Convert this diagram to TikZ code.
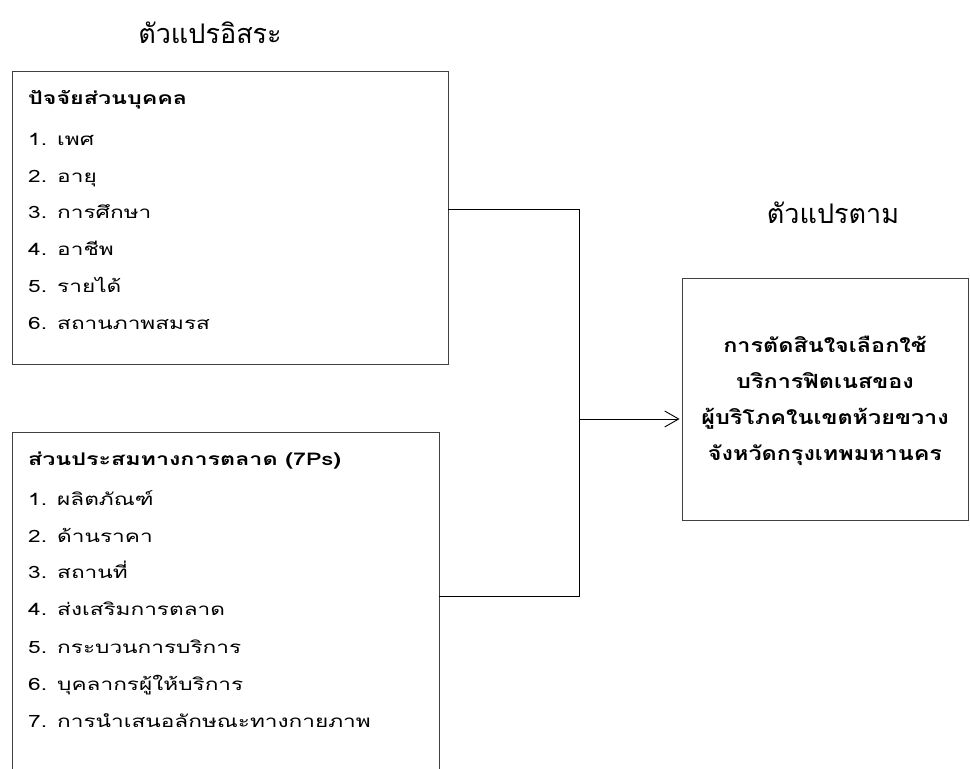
\documentclass[tikz,border=0pt]{standalone}
\usepackage{fontspec}
\setmainfont[Script=Thai]{Loma}
\newfontfamily\wideThai[Script=Thai,FakeStretch=1.33]{Loma}
\newfontfamily\wideThaiB[Script=Thai,FakeStretch=1.2]{Loma}
\usetikzlibrary{arrows.meta}
\begin{document}
\begin{tikzpicture}[x=1pt,y=-1pt,
  box/.style={draw=black!75,line width=0.8pt,inner sep=0pt},
  item/.style={anchor=base west,inner sep=0pt,font=\wideThai\fontsize{17}{20}\selectfont},
  head/.style={anchor=base west,inner sep=0pt,font=\wideThai\fontsize{17.5}{20}\selectfont\bfseries},
  title/.style={anchor=base,inner sep=0pt,font=\fontsize{27}{31}\selectfont},
  dvtext/.style={anchor=base,inner sep=0pt,font=\wideThaiB\fontsize{19.5}{23}\selectfont\bfseries},
  conn/.style={line width=0.9pt,black}]
\useasboundingbox (0,0) rectangle (970,769);
\fill[white] (0,0) rectangle (970,769);
% titles
\node[title] (t1) at (210,43) {ตัวแปรอิสระ};
\node[title] (t2) at (833,223) {ตัวแปรตาม};
% boxes
\node[box,minimum width=436pt,minimum height=293pt] (b1) at (230,217.5) {};
\node[box,minimum width=427pt,minimum height=370pt] (b2) at (225.5,617) {};
\node[box,minimum width=286pt,minimum height=242pt] (dv) at (825,399) {};
% box 1 text
\node[head] (h1) at (28,104) {ปัจจัยส่วนบุคคล};
\node[item] (a1) at (28,145) {1. เพศ};
\node[item] (a2) at (28,182) {2. อายุ};
\node[item] (a3) at (28,218) {3. การศึกษา};
\node[item] (a4) at (28,255) {4. อาชีพ};
\node[item] (a5) at (28,292) {5. รายได้};
\node[item] (a6) at (28,329) {6. สถานภาพสมรส};
% box 2 text
\node[head] (h2) at (28,465) {ส่วนประสมทางการตลาด (7Ps)};
\node[item] (c1) at (28,505) {1. ผลิตภัณฑ์};
\node[item] (c2) at (28,542) {2. ด้านราคา};
\node[item] (c3) at (28,578) {3. สถานที่};
\node[item] (c4) at (28,615) {4. ส่งเสริมการตลาด};
\node[item] (c5) at (28,653) {5. กระบวนการบริการ};
\node[item] (c6) at (28,690) {6. บุคลากรผู้ให้บริการ};
\node[item] (c7) at (28,727) {7. การนำเสนอลักษณะทางกายภาพ};
% dependent text
\node[dvtext] (d1) at (825,352) {การตัดสินใจเลือกใช้};
\node[dvtext] (d2) at (825,388) {บริการฟิตเนสของ};
\node[dvtext] (d3) at (825,424) {ผู้บริโภคในเขตห้วยขวาง};
\node[dvtext] (d4) at (825,460) {จังหวัดกรุงเทพมหานคร};
% connectors
\coordinate (k1) at (579,209);
\coordinate (k2) at (579,596);
\coordinate (j) at (579,419);
\draw[conn] (b1.east |- k1) -- (k1) -- (k2) -- (b2.east |- k2);
\draw[conn,-{Straight Barb[length=14pt,width=16pt,line width=0.9pt]}] (j) -- ([xshift=-2pt]dv.west |- j);
\end{tikzpicture}
\end{document}
